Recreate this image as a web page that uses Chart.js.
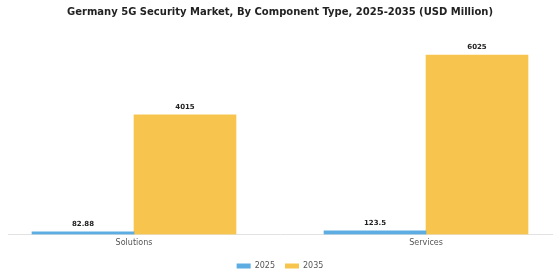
<!DOCTYPE html>
<html>
<head>
<meta charset="utf-8">
<script src="https://cdn.jsdelivr.net/npm/chart.js@4.4.1/dist/chart.umd.min.js"></script>
<style>
  html, body { margin:0; padding:0; background:#fff; }
  #wrap { width:560px; height:280px; }
</style>
</head>
<body>
<div id="wrap"><canvas id="chart" width="560" height="280"></canvas></div>
<script>

// DATA
const categories = ["Solutions", "Services"];
const years = ["2025", "2035"];
const values2025 = [82.88, 123.5];
const values2035 = [4015, 6025];
const colors = ["#5DADE2", "#F7C54E"];


// VALUE LABELS ABOVE BARS
const valueLabels = {
    id: "valueLabels",
    afterDatasetsDraw(chart){
        const ctx = chart.ctx;
        ctx.save();
        ctx.font = "bold 7px 'DejaVu Sans'";
        ctx.fillStyle = "#222";
        ctx.textAlign = "center";
        ctx.textBaseline = "bottom";
        chart.data.datasets.forEach((ds, i) => {
            chart.getDatasetMeta(i).data.forEach((bar, j) => {
                ctx.fillText(String(ds.data[j].y), bar.x, bar.y - 4);
            });
        });
        ctx.restore();
    }
};


const toPoints = arr => arr.map((v, i) => ({x: i, y: v}));

new Chart(document.getElementById("chart"), {
    type: "bar",
    data: {
        datasets: [
            { label: years[0], data: toPoints(values2025), backgroundColor: colors[0], barThickness: 102 },
            { label: years[1], data: toPoints(values2035), backgroundColor: colors[1], barThickness: 102 }
        ]
    },
    options: {
        responsive: false,
        animation: false,
        layout: { padding: { left: 8, right: 8, top: 0, bottom: 0 } },
        scales: {
            x: {
                type: "linear",
                offset: false,
                min: -0.4315,
                max: 1.4315,
                grid: { display: false, drawTicks: false },
                border: { color: "#e2e2e2", width: 1 },
                afterBuildTicks: axis => { axis.ticks = categories.map((c, i) => ({value: i})); },
                ticks: {
                    color: "#555",
                    font: { family: "'DejaVu Sans'", size: 8 },
                    padding: 4,
                    callback: v => categories[v]
                }
            },
            y: {
                display: false,
                min: 0,
                max: 6800
            }
        },
        plugins: {
            title: {
                display: true,
                text: "Germany 5G Security Market, By Component Type, 2025-2035 (USD Million)",
                color: "#222",
                font: { family: "'DejaVu Sans'", size: 10, weight: "bold" },
                padding: { top: 6, bottom: 14 }
            },
            legend: {
                position: "bottom",
                labels: {
                    boxWidth: 14,
                    boxHeight: 5,
                    color: "#555",
                    font: { family: "'DejaVu Sans'", size: 8 },
                    padding: 10
                }
            },
            tooltip: { enabled: false }
        }
    },
    plugins: [valueLabels]
});

</script>
</body>
</html>
